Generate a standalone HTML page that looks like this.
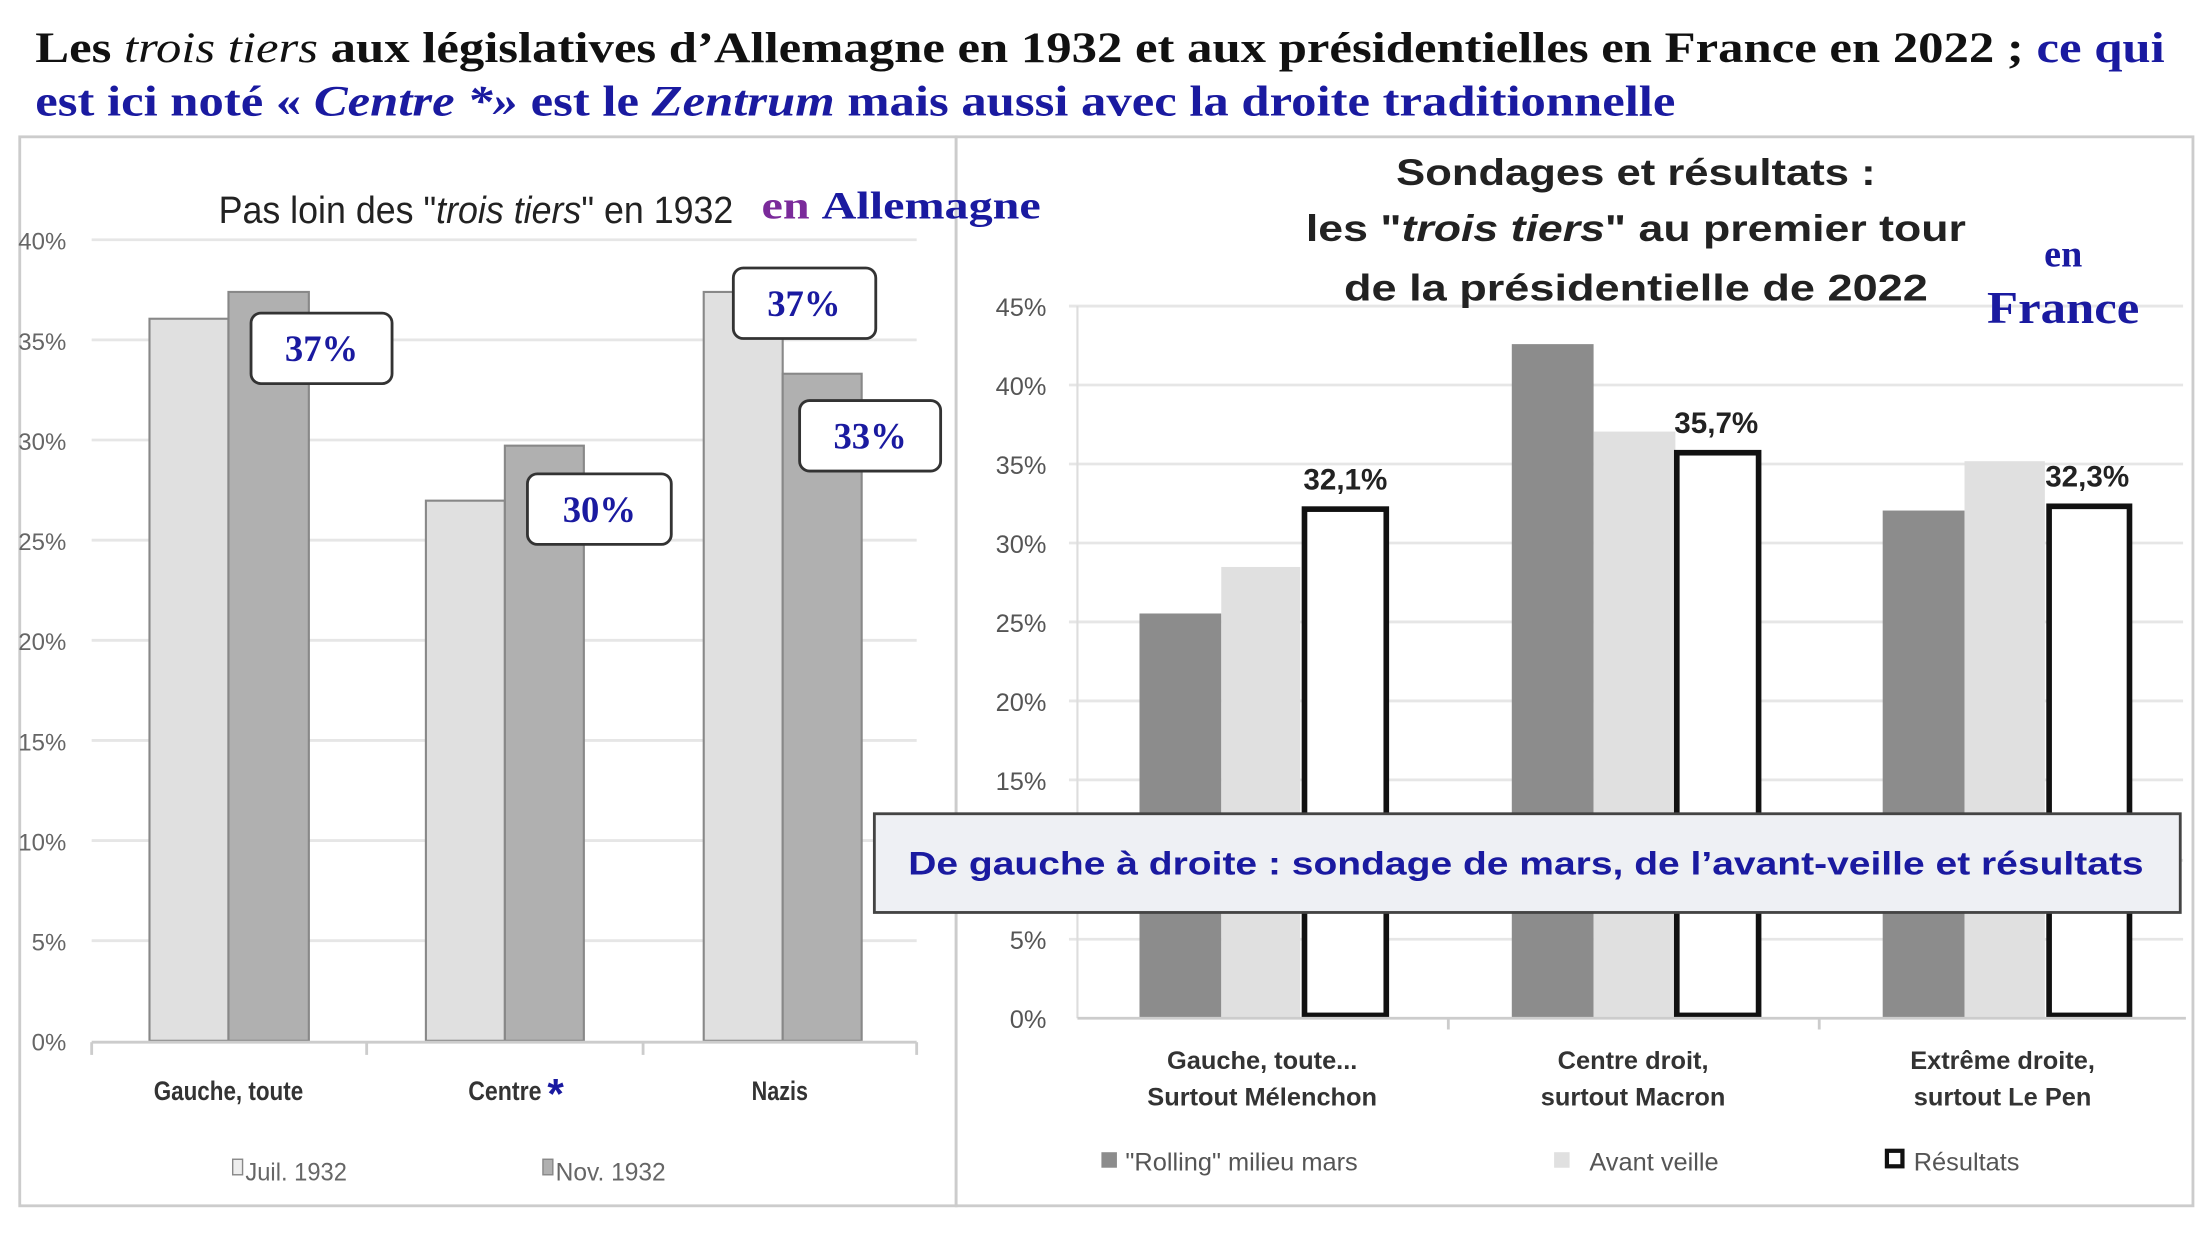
<!DOCTYPE html>
<html><head><meta charset="utf-8"><style>
html,body{margin:0;padding:0;background:#fff;}
svg{display:block;}
.ser{font-family:"Liberation Serif",serif;font-weight:bold;}
</style></head><body>
<svg width="2200" height="1236" viewBox="0 0 1560 876.4" xmlns="http://www.w3.org/2000/svg">
<rect width="1560" height="877" fill="#fff"/>
<text x="25" y="44" class="ser" font-size="31" fill="#111" textLength="1510" lengthAdjust="spacingAndGlyphs">Les <tspan font-style="italic" font-weight="normal">trois tiers</tspan> aux législatives d’Allemagne en 1932 et aux présidentielles en France en 2022 ; <tspan fill="#1a1aa0">ce qui</tspan></text>
<text x="25" y="82" class="ser" font-size="31" fill="#1a1aa0" textLength="1163" lengthAdjust="spacingAndGlyphs">est ici noté « <tspan font-style="italic">Centre *»</tspan> est le <tspan font-style="italic">Zentrum</tspan> mais aussi avec la droite traditionnelle</text>
<rect x="14" y="97" width="664" height="758" fill="#fff" stroke="#ccc" stroke-width="2"/>
<rect x="678" y="97" width="877" height="758" fill="#fff" stroke="#ccc" stroke-width="2"/>
<g stroke="#e6e6e6" stroke-width="2">
<line x1="65" x2="650" y1="170" y2="170"/><line x1="65" x2="650" y1="241" y2="241"/><line x1="65" x2="650" y1="312" y2="312"/><line x1="65" x2="650" y1="383" y2="383"/><line x1="65" x2="650" y1="454" y2="454"/><line x1="65" x2="650" y1="525" y2="525"/><line x1="65" x2="650" y1="596" y2="596"/><line x1="65" x2="650" y1="667" y2="667"/>
</g>
<g font-family="Liberation Sans Narrow,Liberation Sans,sans-serif" font-size="17" fill="#666" text-anchor="end">
<text x="47" y="177">40%</text><text x="47" y="248">35%</text><text x="47" y="319">30%</text><text x="47" y="390">25%</text><text x="47" y="461">20%</text><text x="47" y="532">15%</text><text x="47" y="603">10%</text><text x="47" y="674">5%</text><text x="47" y="745">0%</text>
</g>
<g stroke="#888" stroke-width="1.5">
<rect x="106" y="226" width="56" height="512" fill="#e0e0e0"/><rect x="162" y="207" width="57" height="531" fill="#b0b0b0"/>
<rect x="302" y="355" width="56" height="383" fill="#e0e0e0"/><rect x="358" y="316" width="56" height="422" fill="#b0b0b0"/>
<rect x="499" y="207" width="56" height="531" fill="#e0e0e0"/><rect x="555" y="265" width="56" height="473" fill="#b0b0b0"/>
</g>
<g stroke="#ccc" stroke-width="2"><line x1="65" x2="650" y1="739" y2="739"/><line x1="65" x2="65" y1="739" y2="748"/><line x1="260" x2="260" y1="739" y2="748"/><line x1="456" x2="456" y1="739" y2="748"/><line x1="650" x2="650" y1="739" y2="748"/></g>
<g fill="#fff" stroke="#333" stroke-width="2">
<rect x="178" y="222" width="100" height="50" rx="7"/><rect x="374" y="336" width="102" height="50" rx="7"/><rect x="520" y="190" width="101" height="50" rx="7"/><rect x="567" y="284" width="100" height="50" rx="7"/>
</g>
<g class="ser" font-size="26" fill="#1a1aa0" text-anchor="middle">
<text x="228" y="256">37%</text><text x="425" y="370">30%</text><text x="570" y="224">37%</text><text x="617" y="318">33%</text>
</g>
<text x="155" y="158" font-family="Liberation Sans Narrow,Liberation Sans,sans-serif" font-size="27" fill="#222" textLength="365" lengthAdjust="spacingAndGlyphs">Pas loin des "<tspan font-style="italic">trois tiers</tspan>" en 1932</text>
<text x="540" y="155" class="ser" font-size="28" textLength="198" lengthAdjust="spacingAndGlyphs"><tspan fill="#7a2a9a">en</tspan> <tspan fill="#1a1aa0">Allemagne</tspan></text>
<g font-family="Liberation Sans Narrow,Liberation Sans,sans-serif" font-size="19" font-weight="bold" fill="#333" text-anchor="middle">
<text x="162" y="780" textLength="106" lengthAdjust="spacingAndGlyphs">Gauche, toute</text><text x="358" y="780" textLength="52" lengthAdjust="spacingAndGlyphs">Centre</text><text x="553" y="780" textLength="40" lengthAdjust="spacingAndGlyphs">Nazis</text>
</g>
<text x="394" y="786" font-family="Liberation Sans,sans-serif" font-size="30" font-weight="bold" fill="#1a1aa0" text-anchor="middle">*</text>
<g font-family="Liberation Sans Narrow,Liberation Sans,sans-serif" font-size="18" fill="#666">
<rect x="165" y="822" width="7" height="11" fill="#eee" stroke="#888"/><text x="174" y="837" textLength="72" lengthAdjust="spacingAndGlyphs">Juil. 1932</text>
<rect x="385" y="822" width="7" height="11" fill="#b0b0b0" stroke="#888"/><text x="394" y="837" textLength="78" lengthAdjust="spacingAndGlyphs">Nov. 1932</text>
</g>
<g stroke="#e6e6e6" stroke-width="2">
<line x1="758" x2="1548" y1="217" y2="217"/><line x1="758" x2="1548" y1="273" y2="273"/><line x1="758" x2="1548" y1="329" y2="329"/><line x1="758" x2="1548" y1="385" y2="385"/><line x1="758" x2="1548" y1="441" y2="441"/><line x1="758" x2="1548" y1="497" y2="497"/><line x1="758" x2="1548" y1="553" y2="553"/><line x1="758" x2="1548" y1="610" y2="610"/><line x1="758" x2="1548" y1="666" y2="666"/>
</g>
<line x1="764" x2="764" y1="217" y2="722" stroke="#ddd" stroke-width="1.5"/>
<g font-family="Liberation Sans,sans-serif" font-size="18" fill="#555" text-anchor="end">
<text x="742" y="224">45%</text><text x="742" y="280">40%</text><text x="742" y="336">35%</text><text x="742" y="392">30%</text><text x="742" y="448">25%</text><text x="742" y="504">20%</text><text x="742" y="560">15%</text><text x="742" y="673">5%</text><text x="742" y="729">0%</text>
</g>
<rect x="808" y="435" width="58" height="287" fill="#8c8c8c"/><rect x="866" y="402" width="56" height="320" fill="#e0e0e0"/>
<rect x="1072" y="244" width="58" height="478" fill="#8c8c8c"/><rect x="1130" y="306" width="58" height="416" fill="#e0e0e0"/>
<rect x="1335" y="362" width="58" height="360" fill="#8c8c8c"/><rect x="1393" y="327" width="57" height="395" fill="#e0e0e0"/>
<g fill="#fff" stroke="#111" stroke-width="4">
<rect x="925" y="361" width="58" height="359"/><rect x="1189" y="321" width="58" height="399"/><rect x="1453" y="359" width="57" height="361"/>
</g>
<g stroke="#ccc" stroke-width="2"><line x1="764" x2="1550" y1="722" y2="722"/><line x1="1027" x2="1027" y1="722" y2="730"/><line x1="1290" x2="1290" y1="722" y2="730"/></g>
<g font-family="Liberation Sans,sans-serif" font-weight="bold" font-size="21" fill="#222" text-anchor="middle">
<text x="954" y="347">32,1%</text><text x="1217" y="307">35,7%</text><text x="1480" y="345">32,3%</text>
</g>
<g font-family="Liberation Sans,sans-serif" font-weight="bold" font-size="26" fill="#222" text-anchor="middle">
<text x="1160" y="131" textLength="340" lengthAdjust="spacingAndGlyphs">Sondages et résultats :</text>
<text x="1160" y="171" textLength="468" lengthAdjust="spacingAndGlyphs">les "<tspan font-style="italic">trois tiers</tspan>" au premier tour</text>
<text x="1160" y="213" textLength="414" lengthAdjust="spacingAndGlyphs">de la présidentielle de 2022</text>
</g>
<g class="ser" fill="#1a1aa0" text-anchor="middle"><text x="1463" y="189" font-size="27">en</text><text x="1463" y="229" font-size="32" textLength="108" lengthAdjust="spacingAndGlyphs">France</text></g>
<rect x="620" y="577" width="926" height="70" fill="#eef0f4" stroke="#444" stroke-width="2"/>
<text x="1082" y="620" font-family="Liberation Sans,sans-serif" font-weight="bold" font-size="23" fill="#1a1aa0" text-anchor="middle" textLength="876" lengthAdjust="spacingAndGlyphs">De gauche à droite : sondage de mars, de l’avant-veille et résultats</text>
<g font-family="Liberation Sans,sans-serif" font-weight="bold" font-size="18" fill="#333" text-anchor="middle">
<text x="895" y="758">Gauche, toute...</text><text x="895" y="784">Surtout Mélenchon</text>
<text x="1158" y="758">Centre droit,</text><text x="1158" y="784">surtout Macron</text>
<text x="1420" y="758">Extrême droite,</text><text x="1420" y="784">surtout Le Pen</text>
</g>
<g font-family="Liberation Sans,sans-serif" font-size="18" fill="#555">
<rect x="781" y="817" width="11" height="11" fill="#8c8c8c"/><text x="798" y="830">"Rolling" milieu mars</text>
<rect x="1102" y="817" width="11" height="11" fill="#e0e0e0"/><text x="1127" y="830">Avant veille</text>
<rect x="1338" y="816" width="11" height="11" fill="#fff" stroke="#111" stroke-width="3"/><text x="1357" y="830">Résultats</text>
</g>
</svg>
</body></html>
